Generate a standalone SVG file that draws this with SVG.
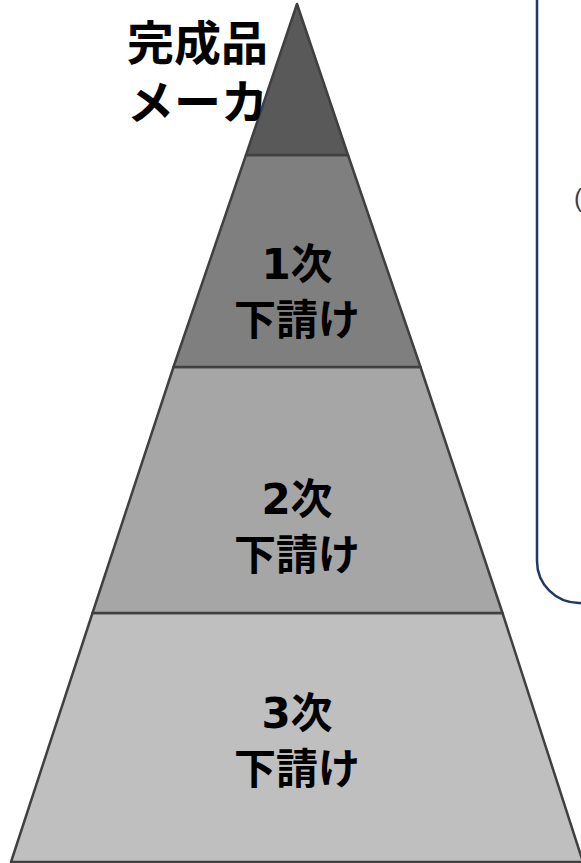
<svg xmlns="http://www.w3.org/2000/svg" width="581" height="863" viewBox="0 0 581 863">
<style>
.lbl{font-family:"DejaVu Sans","Noto Sans CJK JP",sans-serif;font-weight:bold;font-size:42px;fill:#000}
.big{font-size:47px}
.tier{stroke:#404040;stroke-width:2.5;stroke-linejoin:round}
</style>
<rect width="581" height="863" fill="#fff"/>
<g id="callout">
<rect x="537" y="-60" width="120" height="663" rx="42" ry="42" fill="none" stroke="#203864" stroke-width="2.5"/>
<text x="574" y="207" font-family="Liberation Sans, sans-serif" font-size="25" fill="#404040">(</text>
</g>
<g id="tier4">
<polygon class="tier" points="92.5,613 502.5,613 583,862 11,862" fill="#bfbfbf"/>
<text class="lbl" x="297" y="728" text-anchor="middle">3次</text>
<text class="lbl" x="297" y="784" text-anchor="middle">下請け</text>
</g>
<g id="tier3">
<polygon class="tier" points="173.5,367 420.5,367 502.5,613 92.5,613" fill="#a6a6a6"/>
<text class="lbl" x="297" y="514" text-anchor="middle">2次</text>
<text class="lbl" x="297" y="570" text-anchor="middle">下請け</text>
</g>
<g id="tier2">
<polygon class="tier" points="246,155 348,155 420.5,367 173.5,367" fill="#7f7f7f"/>
<text class="lbl" x="297" y="279" text-anchor="middle">1次</text>
<text class="lbl" x="297" y="335" text-anchor="middle">下請け</text>
</g>
<g id="tier1">
<polygon class="tier" points="297,4 348,155 246,155" fill="#595959"/>
</g>
<g id="maker">
<text class="lbl big" x="127" y="60">完成品</text>
<text class="lbl big" x="127" y="119">メーカ</text>
</g>
</svg>
